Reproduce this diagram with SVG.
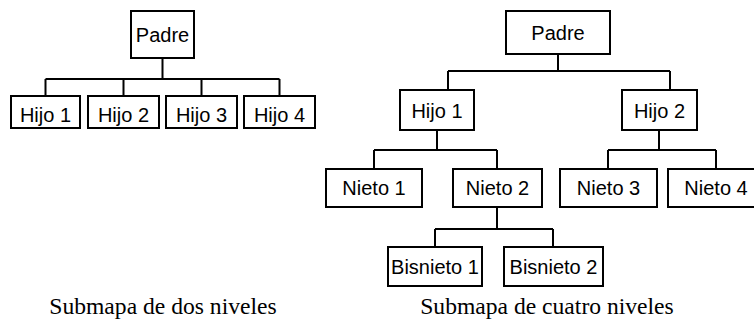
<svg xmlns="http://www.w3.org/2000/svg" width="754" height="323" viewBox="0 0 754 323">
<style>
.box{fill:#fff;stroke:#000;stroke-width:2}
.lbl{font-family:"Liberation Sans",Arial,sans-serif;font-size:20px;text-anchor:middle;fill:#000}
.cap{font-family:"Liberation Serif","Times New Roman",serif;font-size:23.6px;text-anchor:middle;fill:#000}
.con{fill:none;stroke:#000;stroke-width:2}
</style>
<rect width="754" height="323" fill="#fff"/>
<g id="connectors" class="con">
<path d="M162.5 58V79M45.5 79H279.5M45.5 79V96M123.5 79V96M201.5 79V96M279.5 79V96"/>
<path d="M558 54V71M448 71H670M448 71V90M670 71V90"/>
<path d="M437 130V150M374 150H497M374 150V169M497 150V169"/>
<path d="M659 130V150M608 150H716M608 150V169M716 150V169"/>
<path d="M497 207V229M435 229H553M435 229V247M553 229V247"/>
</g>
<g id="l-padre"><rect class="box" x="131" y="11" width="63" height="47"/><text class="lbl" x="162.5" y="42">Padre</text></g>
<g id="l-hijo1"><rect class="box" x="11" y="96" width="69" height="32"/><text class="lbl" x="45.5" y="122">Hijo 1</text></g>
<g id="l-hijo2"><rect class="box" x="88" y="96" width="71" height="32"/><text class="lbl" x="123.5" y="122">Hijo 2</text></g>
<g id="l-hijo3"><rect class="box" x="166" y="96" width="71" height="32"/><text class="lbl" x="201.5" y="122">Hijo 3</text></g>
<g id="l-hijo4"><rect class="box" x="244" y="96" width="71" height="32"/><text class="lbl" x="279.5" y="122">Hijo 4</text></g>
<g id="r-padre"><rect class="box" x="506" y="11" width="104" height="43"/><text class="lbl" x="558" y="40">Padre</text></g>
<g id="r-hijo1"><rect class="box" x="400" y="90" width="74" height="40"/><text class="lbl" x="437" y="118">Hijo 1</text></g>
<g id="r-hijo2"><rect class="box" x="622" y="90" width="75" height="40"/><text class="lbl" x="659.5" y="118">Hijo 2</text></g>
<g id="nieto1"><rect class="box" x="326" y="169" width="96" height="38"/><text class="lbl" x="374" y="195">Nieto 1</text></g>
<g id="nieto2"><rect class="box" x="453" y="169" width="89" height="38"/><text class="lbl" x="497.5" y="195">Nieto 2</text></g>
<g id="nieto3"><rect class="box" x="560" y="169" width="97" height="38"/><text class="lbl" x="608.5" y="195">Nieto 3</text></g>
<g id="nieto4"><rect class="box" x="668" y="169" width="96" height="38"/><text class="lbl" x="716" y="195">Nieto 4</text></g>
<g id="bisnieto1"><rect class="box" x="388" y="247" width="94" height="39"/><text class="lbl" x="435" y="274">Bisnieto 1</text></g>
<g id="bisnieto2"><rect class="box" x="504" y="247" width="99" height="39"/><text class="lbl" x="553.5" y="274">Bisnieto 2</text></g>
<text class="cap" x="163" y="314">Submapa de dos niveles</text>
<text class="cap" x="547" y="314">Submapa de cuatro niveles</text>
</svg>
